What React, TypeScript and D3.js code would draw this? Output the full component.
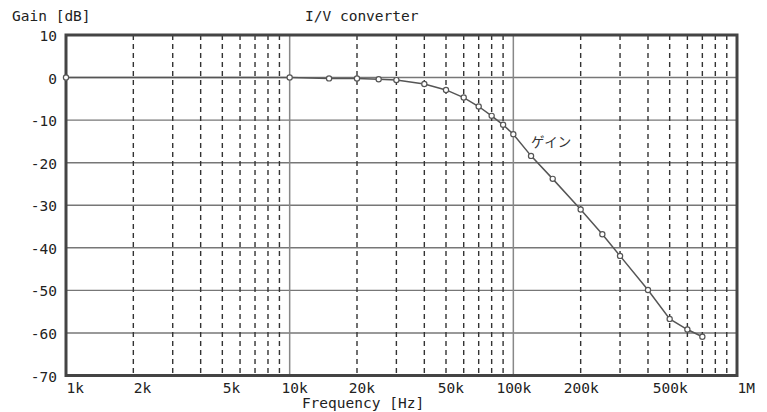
import React from "react";
import * as d3 from "d3";

// measured points: frequency [Hz] and gain [dB]
const freqs = [1e3, 10e3, 15e3, 20e3, 25e3, 30e3, 40e3, 50e3, 60e3, 70e3, 80e3, 90e3, 100e3, 120e3, 150e3, 200e3, 250e3, 300e3, 400e3, 500e3, 600e3, 700e3];
const gains = [0, 0, -0.2, -0.2, -0.4, -0.6, -1.5, -2.9, -4.7, -6.8, -9.0, -11.1, -13.3, -18.4, -23.8, -31.0, -36.8, -41.9, -49.9, -56.7, -59.2, -60.9];

const yTicks = [10, 0, -10, -20, -30, -40, -50, -60, -70];
const xLabelValues = [1e3, 2e3, 5e3, 10e3, 20e3, 50e3, 100e3, 200e3, 500e3, 1e6];
const xLabels = ["1k", "2k", "5k", "10k", "20k", "50k", "100k", "200k", "500k", "1M"];
const decades = [10e3, 100e3];

const mono = "'DejaVu Sans Mono', monospace";

const App = () => {
  const width = 767;
  const height = 412;
  const x = d3.scaleLog().domain([1e3, 1e6]).range([66, 737]);
  const y = d3.scaleLinear().domain([-70, 10]).range([375.5, 35]);

  // minor lines 2..9 in each decade
  const minor: number[] = [];
  [1e3, 1e4, 1e5].forEach(d => {
    for (let k = 2; k <= 9; k++) minor.push(d * k);
  });

  const line = d3.line<number>()
    .x((_, i) => x(freqs[i]))
    .y(g => y(g));

  return (
    <svg width={width} height={height} style={{ position: "absolute", left: 0, top: 0 }}>
      <rect width={width} height={height} fill="#fff" />
      {yTicks.map(t => (
        <line key={"h" + t} x1={66} x2={737} y1={y(t)} y2={y(t)} stroke="#777" strokeWidth={1.4} />
      ))}
      {minor.map(f => (
        <line key={"m" + f} x1={x(f)} x2={x(f)} y1={35} y2={375.5} stroke="#333" strokeWidth={1.4} strokeDasharray="5,4" />
      ))}
      {decades.map(f => (
        <line key={"d" + f} x1={x(f)} x2={x(f)} y1={35} y2={375.5} stroke="#888" strokeWidth={1.5} />
      ))}
      <rect x={66} y={35} width={671} height={340.5} fill="none" stroke="#444" strokeWidth={3} />

      <path d={line(gains) || ""} fill="none" stroke="#555" strokeWidth={1.5} />
      {gains.map((g, i) => (
        <circle key={"p" + i} cx={x(freqs[i])} cy={y(g)} r={2.6} fill="#fff" stroke="#555" strokeWidth={1.2} />
      ))}

      {yTicks.map(t => (
        <text key={"yl" + t} x={57} y={y(t) + 6} textAnchor="end" fontFamily={mono} fontSize={14.5} fill="#222">
          {String(t)}
        </text>
      ))}
      {xLabelValues.map((f, i) => (
        <text key={"xl" + f} x={x(f) + 18} y={393} textAnchor="end" fontFamily={mono} fontSize={14.5} fill="#222">
          {xLabels[i]}
        </text>
      ))}

      <text x={12} y={21} fontFamily={mono} fontSize={14.5} fill="#222">Gain [dB]</text>
      <text x={305} y={21} fontFamily={mono} fontSize={14.5} fill="#222">I/V converter</text>
      <text x={363} y={408} textAnchor="middle" fontFamily={mono} fontSize={14.5} fill="#222">Frequency [Hz]</text>
      <text x={531} y={147} fontFamily="'Noto Sans CJK JP', sans-serif" fontSize={13.5} fill="#333">ゲイン</text>
    </svg>
  );
};

export default App;
